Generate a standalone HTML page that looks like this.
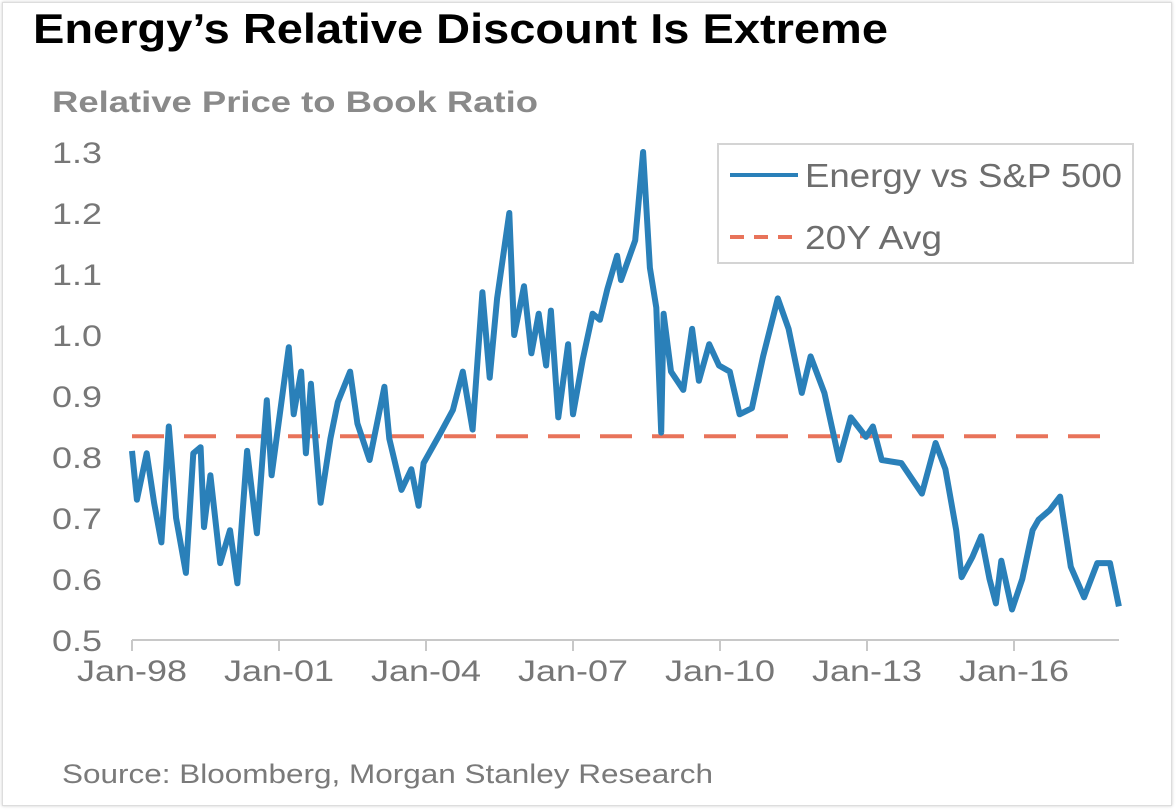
<!DOCTYPE html>
<html><head><meta charset="utf-8"><style>
html,body{margin:0;padding:0;background:#fff;}
body{width:1176px;height:812px;overflow:hidden;position:relative;font-family:"Liberation Sans",Arial,sans-serif;}
#frame{position:absolute;left:2px;top:2px;width:1168px;height:802px;border:1px solid #ddd;box-shadow:0 0 3px #ccc;}
</style></head><body>
<div id="frame"></div>
<svg id="chart" width="1176" height="812" style="position:absolute;left:0;top:0">
<text x="33" y="43" font-size="42" font-weight="bold" fill="#000" textLength="855" lengthAdjust="spacingAndGlyphs">Energy’s Relative Discount Is Extreme</text>
<text x="52" y="112" font-size="30" font-weight="bold" fill="#8a8a8a" textLength="486" lengthAdjust="spacingAndGlyphs">Relative Price to Book Ratio</text>
<text x="62" y="783" font-size="27" fill="#7a7a7a" textLength="651" lengthAdjust="spacingAndGlyphs">Source: Bloomberg, Morgan Stanley Research</text>
<g id="yticks"></g>
<g id="xticks"></g>
<g id="plot"></g>
<g>
<rect x="718" y="144" width="415" height="119" fill="#fff" stroke="#d4d4d4" stroke-width="2"/>
<line x1="730" y1="175" x2="798" y2="175" stroke="#2a80b9" stroke-width="4"/>
<text x="805" y="187" font-size="33" fill="#6e6e6e" textLength="317" lengthAdjust="spacingAndGlyphs">Energy vs S&amp;P 500</text>
<line x1="730" y1="237" x2="792" y2="237" stroke="#e8735a" stroke-width="4" stroke-dasharray="14 10"/>
<text x="805" y="249" font-size="33" fill="#6e6e6e" textLength="137" lengthAdjust="spacingAndGlyphs">20Y Avg</text>
</g>
</svg>
<script>
const yTickLabels=["0.5","0.6","0.7","0.8","0.9","1.0","1.1","1.2","1.3"];
const yTickValues=[0.5,0.6,0.7,0.8,0.9,1.0,1.1,1.2,1.3];
const xTickLabels=["Jan-98","Jan-01","Jan-04","Jan-07","Jan-10","Jan-13","Jan-16"];
const xTickYears=[1998,2001,2004,2007,2010,2013,2016];
const avgValue=0.834;
const dates=[1998.0,1998.1,1998.3,1998.45,1998.6,1998.75,1998.9,1999.1,1999.25,1999.4,1999.47,1999.6,1999.8,2000.0,2000.15,2000.35,2000.55,2000.75,2000.85,2001.2,2001.3,2001.45,2001.55,2001.65,2001.85,2002.05,2002.2,2002.45,2002.6,2002.85,2003.15,2003.25,2003.5,2003.7,2003.85,2003.95,2004.3,2004.55,2004.75,2004.95,2005.15,2005.3,2005.45,2005.7,2005.8,2006.0,2006.15,2006.3,2006.45,2006.55,2006.7,2006.9,2007.0,2007.2,2007.4,2007.55,2007.7,2007.9,2007.98,2008.27,2008.43,2008.57,2008.7,2008.8,2008.85,2009.0,2009.25,2009.43,2009.57,2009.78,2009.98,2010.2,2010.4,2010.65,2010.88,2011.18,2011.4,2011.67,2011.85,2012.13,2012.43,2012.67,2012.98,2013.12,2013.3,2013.7,2014.12,2014.4,2014.6,2014.82,2014.93,2015.15,2015.33,2015.5,2015.63,2015.74,2015.96,2016.17,2016.38,2016.5,2016.73,2016.94,2017.16,2017.43,2017.7,2017.96,2018.14];
const values=[0.81,0.73,0.806,0.725,0.66,0.85,0.70,0.61,0.806,0.816,0.685,0.77,0.626,0.68,0.593,0.81,0.675,0.893,0.77,0.98,0.87,0.94,0.806,0.92,0.725,0.83,0.89,0.94,0.855,0.795,0.915,0.83,0.746,0.78,0.72,0.79,0.84,0.877,0.94,0.845,1.07,0.93,1.06,1.20,1.0,1.08,0.97,1.035,0.95,1.04,0.865,0.985,0.87,0.96,1.035,1.025,1.075,1.13,1.09,1.155,1.30,1.11,1.045,0.84,1.035,0.94,0.91,1.01,0.925,0.985,0.95,0.94,0.87,0.88,0.965,1.06,1.01,0.905,0.965,0.905,0.795,0.865,0.833,0.85,0.795,0.79,0.74,0.823,0.78,0.68,0.603,0.636,0.67,0.60,0.56,0.63,0.55,0.60,0.68,0.697,0.713,0.735,0.62,0.57,0.626,0.626,0.555];

const NS="http://www.w3.org/2000/svg";
function xScale(t){return 132+(t-1998)*49;}
function yScale(v){return 640-(v-0.5)*610;}
function mk(tag,attrs,parent){const e=document.createElementNS(NS,tag);for(const k in attrs)e.setAttribute(k,attrs[k]);parent.appendChild(e);return e;}
const yg=document.getElementById('yticks'),xg=document.getElementById('xticks'),pg=document.getElementById('plot');
yTickValues.forEach((v,i)=>{
  const t=mk('text',{x:52,y:yScale(v)+11,'font-size':30,fill:'#777',textLength:50,lengthAdjust:'spacingAndGlyphs'},yg);
  t.textContent=yTickLabels[i];
  
  
});
const ax=mk('line',{x1:132,y1:640,x2:1119,y2:640,stroke:'#c8c8c8','stroke-width':2},xg);


xTickYears.forEach((yr,i)=>{
  const x=xScale(yr);
  const tk=mk('line',{x1:x,y1:640,x2:x,y2:651,stroke:'#c8c8c8','stroke-width':2},xg);
  
  
  const t=mk('text',{x:x-55,y:681,'font-size':30,fill:'#777',textLength:110,lengthAdjust:'spacingAndGlyphs'},xg);
  t.textContent=xTickLabels[i];
  
  
});
const avg=mk('line',{x1:xScale(1998),y1:yScale(avgValue),x2:xScale(2018.14),y2:yScale(avgValue),stroke:'#e8735a','stroke-width':4,'stroke-dasharray':'32 20'},pg);


const d=dates.map((t,i)=>(i?'L':'M')+xScale(t).toFixed(1)+' '+yScale(values[i]).toFixed(1)).join(' ');
const ln=mk('path',{d:d,fill:'none',stroke:'#2a80b9','stroke-width':6,'stroke-linejoin':'round'},pg);


</script>
</body></html>
